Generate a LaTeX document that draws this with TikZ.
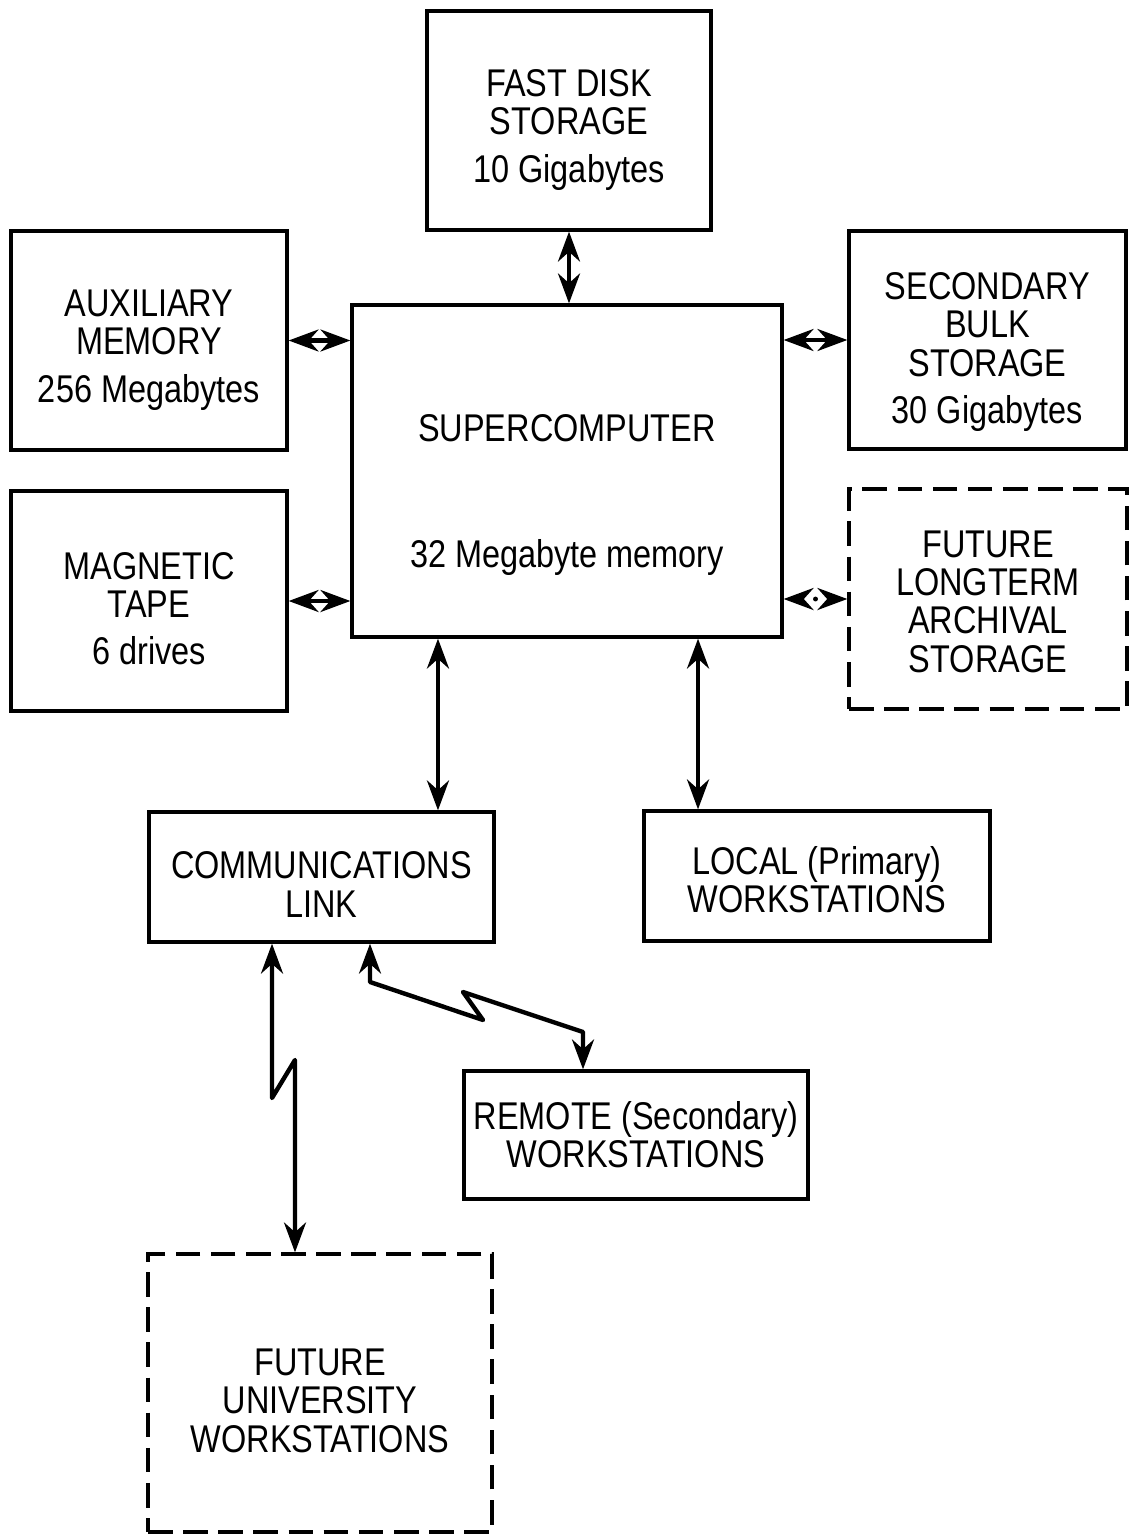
\documentclass[tikz,border=0pt]{standalone}
\usepackage{fontspec}
\setmainfont{Liberation Sans}[FakeStretch=0.84]
\usetikzlibrary{arrows.meta,calc}
\newcommand\lift[1][24pt]{\rule{0pt}{#1}}

\begin{document}
\begin{tikzpicture}[x=0.02cm,y=-0.02cm,
  unit/.style={draw,line width=1.9pt,align=center,inner sep=0pt,font=\fontsize{22}{21.8}\selectfont},
  future/.style={unit,dash pattern=on 14pt off 6pt},
  link/.style={{Stealth[length=17pt,width=12.5pt]}-{Stealth[length=17pt,width=12.5pt]},line width=2.5pt}]
\useasboundingbox (0,0) rectangle (1129,1535);
% storage around the machine
\node[unit,minimum width=5.68cm,minimum height=4.38cm] (disk) at (569,120.5) {\lift[26pt]FAST DISK\\STORAGE\\[5pt]10 Gigabytes};
\node[unit,minimum width=5.52cm,minimum height=4.38cm] (aux) at (149,340.5) {\lift[26pt]AUXILIARY\\MEMORY\\[5pt]256 Megabytes};
\node[unit,minimum width=8.6cm,minimum height=6.64cm] (super) at (567,471) {\lift[43pt]SUPERCOMPUTER\\[50pt]32 Megabyte memory};
\node[unit,minimum width=5.54cm,minimum height=4.36cm] (bulk) at (987.5,340) {\lift[29pt]SECONDARY\\BULK\\STORAGE\\[5pt]30 Gigabytes};
\node[unit,minimum width=5.52cm,minimum height=4.4cm] (tape) at (149,601) {\lift MAGNETIC\\TAPE\\[5pt]6 drives};
\node[future,minimum width=5.56cm,minimum height=4.4cm] (archive) at (988,599) {\lift[18pt]FUTURE\\LONGTERM\\ARCHIVAL\\STORAGE};
% workstations
\node[unit,minimum width=6.9cm,minimum height=2.6cm] (comm) at (321.5,877) {\lift COMMUNICATIONS\\LINK};
\node[unit,minimum width=6.92cm,minimum height=2.6cm] (local) at (817,876) {\lift[20pt]LOCAL (Primary)\\WORKSTATIONS};
\node[unit,minimum width=6.88cm,minimum height=2.56cm] (remote) at (636,1135) {REMOTE (Secondary)\\WORKSTATIONS};
\node[future,minimum width=6.88cm,minimum height=5.56cm] (univ) at (320,1393) {\lift FUTURE\\UNIVERSITY\\WORKSTATIONS};

\draw[link] (disk.south) -- (disk.south |- super.north);
\draw[link] (aux.east) -- (aux.east -| super.west);
\draw[link] (tape.east) -- (tape.east -| super.west);
\draw[link] (bulk.west) -- (bulk.west -| super.east);
\draw[link,dash pattern=on 0pt off 40pt] (archive.west) -- (archive.west -| super.east);
\fill ($(archive.west)!0.5!(archive.west -| super.east)$) circle (1.4pt);
\draw[link] ([xshift=2.33cm]comm.north) -- ([xshift=2.33cm]comm.north |- super.south);
\draw[link] ([xshift=-2.38cm]local.north) -- ([xshift=-2.38cm]local.north |- super.south);
% radio links
\draw[link,line join=round] ([xshift=0.97cm]comm.south) -- (370,982) -- (483,1020) -- (463,992) -- (583,1032) -- ([xshift=-1.06cm]remote.north);
\draw[link,line join=round] ([xshift=-0.99cm]comm.south) -- (272,1098) -- (295,1060) -- ([xshift=-0.5cm]univ.north);
\end{tikzpicture}
\end{document}
